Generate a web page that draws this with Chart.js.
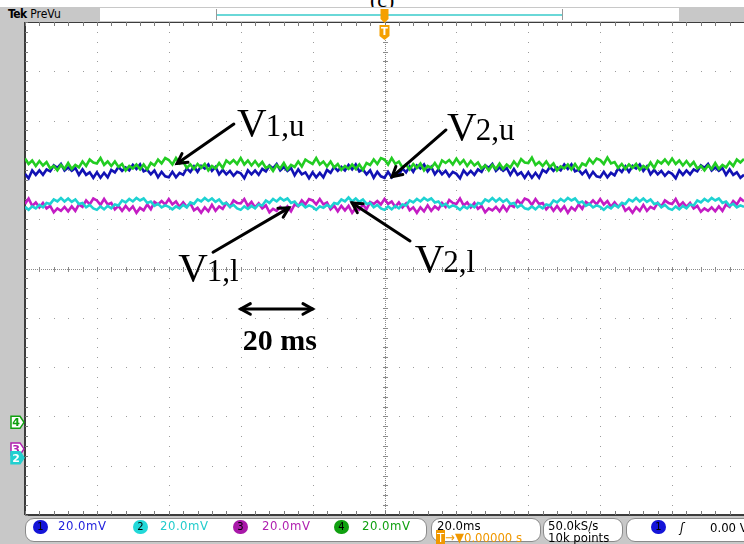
<!DOCTYPE html>
<html>
<head>
<meta charset="utf-8">
<script src="https://cdn.jsdelivr.net/npm/chart.js@4.4.0/dist/chart.umd.min.js"></script>
<style>
body{margin:0;background:#fff;}
#scope{position:relative;width:744px;height:544px;overflow:hidden;font-family:"DejaVu Sans Condensed","DejaVu Sans",sans-serif;}
#shot{position:absolute;left:0;top:7px;width:744px;height:537px;background:#c8c8c8;}
#caption{position:absolute;left:370px;top:-13px;font:22px "Liberation Serif",serif;color:#000;}
#plot{position:absolute;left:0;top:0;width:744px;height:544px;}
.abs{position:absolute;white-space:nowrap;}
#tek{left:8px;top:7px;font-size:12px;color:#000;}
#tek b{letter-spacing:-0.5px;}
#rec{left:100px;top:8px;width:579px;height:13px;background:#fff;}
#brk{left:216px;top:9px;width:345px;height:11px;border-left:1px solid #999;border-right:1px solid #999;}
#brk i{position:absolute;left:0;right:0;top:5px;height:2px;background:#6ad8d8;}
.box{position:absolute;top:518px;height:22px;background:#fff;border:1px solid #8a8a8a;border-radius:9px;}
.badge{position:absolute;top:520px;width:15px;height:14px;border-radius:7px;font-size:11px;line-height:14px;text-align:center;color:#000;}
.val{position:absolute;top:518px;font-size:13px;line-height:16px;letter-spacing:0.5px;white-space:nowrap;}
.ln{position:absolute;font-size:13px;line-height:13px;color:#000;white-space:nowrap;}
</style>
</head>
<body>
<div id="scope">
<div id="caption">(c)</div>
<div id="shot"></div>
<div class="abs" id="tek"><b>Tek</b> PreVu</div>
<div class="abs" id="rec"></div>
<div class="abs" id="brk"><i></i></div>
<div id="plot"><canvas id="scopeChart"></canvas></div>

<div class="box" style="left:25px;width:400px"></div>
<div class="box" style="left:431px;width:108px"></div>
<div class="box" style="left:543px;width:78px"></div>
<div class="box" style="left:626px;width:130px"></div>

<div class="badge" style="left:33px;background:#1414d8">1</div>
<div class="val" style="left:58px;color:#2222dd">20.0mV</div>
<div class="badge" style="left:133px;background:#22d8d8">2</div>
<div class="val" style="left:160px;color:#22cccc">20.0mV</div>
<div class="badge" style="left:233px;background:#a818a8">3</div>
<div class="val" style="left:262px;color:#b020b0">20.0mV</div>
<div class="badge" style="left:334px;background:#10a010">4</div>
<div class="val" style="left:362px;color:#10a010">20.0mV</div>

<div class="ln" style="left:437px;top:519px">20.0ms</div>
<div class="ln" style="left:436px;top:531px;color:#f09800"><span style="background:#f09800;color:#fff;padding:0 1px">T</span>→▼0.00000 s</div>
<div class="ln" style="left:548px;top:519px">50.0kS/s</div>
<div class="ln" style="left:548px;top:531px">10k points</div>
<div class="badge" style="left:651px;background:#1414d8">1</div>
<div class="ln" style="left:680px;top:521px;font-style:italic">ʃ</div>
<div class="ln" style="left:710px;top:521px">0.00 V</div>
</div>

<script>
// =============================
// Scope settings
// =============================
const startMs = -100
const stepMs = 1
const xMajorMs = [-100,-80,-60,-40,-20,0,20,40,60,80,100]
const yMajorDiv = [-5,-4,-3,-2,-1,0,1,2,3,4,5]

// =============================
// Traces (vertical position in divisions, one value per ms)
// =============================
const ch4Green = [
2.23,2.12,2.19,2.08,2.18,2.09,2.16,2.03,2.08,1.99,2.10,2.02,2.14,2.02,2.10,2.05,2.17,2.08,2.21,2.15,
2.13,2.24,2.10,2.17,2.08,2.17,2.06,2.12,1.99,2.08,2.03,2.11,2.01,2.11,2.01,2.14,2.09,2.21,2.13,2.24,
2.20,2.11,2.24,2.13,2.17,2.04,2.11,2.02,2.12,2.04,2.12,1.99,2.08,2.03,2.14,2.04,2.19,2.13,2.20,2.12,
2.24,2.11,2.19,2.09,2.18,2.08,2.16,2.04,2.08,1.98,2.10,2.03,2.14,2.01,2.10,2.06,2.17,2.07,2.21,2.16,
2.12,2.24,2.11,2.17,2.07,2.17,2.05,2.12,2.00,2.08,2.02,2.11,2.02,2.11,2.00,2.14,2.10,2.21,2.12,2.24,
2.21,2.11,2.24,2.12,2.17,2.05,2.11,2.01,2.12,2.04,2.13,1.99,2.08,2.04,2.14,2.03,2.19,2.14,2.20,2.11,
2.23,2.12,2.20,2.08,2.18,2.09,2.15,2.03,2.09,1.99,2.10,2.02,2.13,2.02,2.11,2.05,2.17,2.08,2.22,2.15,
2.14,2.25,2.10,2.16,2.08,2.17,2.06,2.13,1.99,2.07,2.03,2.11,2.01,2.12,2.01,2.13,2.09,2.22,2.13,2.23,
2.20,2.12,2.25,2.13,2.16,2.04,2.12,2.02,2.11,2.04,2.12,2.00,2.08,2.03,2.15,2.04,2.18,2.13,2.21,2.12,
2.23,2.12,2.19,2.09,2.18,2.08,2.16,2.03,2.08,1.99,2.09,2.02,2.14,2.02,2.10,2.05,2.16,2.08,2.21,2.15,
2.22]

const ch1Blue = [
1.92,1.83,1.99,1.90,1.99,1.90,2.01,1.97,2.09,2.04,2.12,1.99,2.05,1.98,2.04,1.90,2.01,1.90,1.95,1.84,
1.95,1.84,1.94,1.85,2.00,1.95,2.06,1.98,2.05,1.99,2.10,2.02,2.11,1.97,2.00,1.91,1.99,1.85,1.96,1.87,
1.85,1.96,1.85,1.94,1.90,2.03,1.96,2.07,1.96,2.08,2.03,2.11,1.98,2.06,1.91,2.00,1.91,1.98,1.88,1.96,
1.93,1.83,1.99,1.91,1.99,1.90,2.02,1.97,2.09,2.03,2.12,1.99,2.06,1.98,2.04,1.89,2.01,1.91,1.95,1.83,
1.95,1.85,1.94,1.85,2.00,1.94,2.06,1.98,2.06,1.99,2.10,2.01,2.11,1.97,2.01,1.91,1.99,1.84,1.96,1.87,
1.84,1.96,1.85,1.93,1.90,2.03,1.95,2.07,1.96,2.09,2.03,2.11,1.97,2.06,1.91,2.01,1.91,1.98,1.87,1.96,
1.92,1.83,1.99,1.90,1.98,1.90,2.01,1.96,2.09,2.04,2.12,1.98,2.05,1.98,2.04,1.90,2.02,1.90,1.95,1.84,
1.95,1.84,1.94,1.84,2.00,1.95,2.06,1.98,2.05,1.99,2.11,2.02,2.11,1.97,2.00,1.91,1.99,1.85,1.96,1.87,
1.85,1.96,1.85,1.94,1.89,2.03,1.96,2.07,1.96,2.08,2.03,2.11,1.98,2.07,1.91,2.00,1.91,1.98,1.88,1.96,
1.92,1.83,1.99,1.90,1.99,1.91,2.01,1.97,2.09,2.04,2.12,1.99,2.05,1.98,2.04,1.90,2.01,1.90,1.95,1.84,
1.90]

const ch3Magenta = [
1.31,1.42,1.27,1.34,1.24,1.33,1.22,1.27,1.14,1.22,1.17,1.25,1.16,1.26,1.17,1.30,1.25,1.38,1.30,1.42,
1.38,1.29,1.41,1.30,1.33,1.20,1.27,1.17,1.27,1.18,1.26,1.13,1.23,1.18,1.30,1.20,1.35,1.30,1.37,1.30,
1.41,1.30,1.36,1.25,1.34,1.25,1.32,1.18,1.23,1.13,1.24,1.16,1.29,1.17,1.26,1.21,1.33,1.25,1.38,1.33,
1.32,1.41,1.27,1.35,1.24,1.32,1.22,1.28,1.14,1.21,1.17,1.25,1.17,1.26,1.16,1.30,1.26,1.38,1.30,1.41,
1.38,1.30,1.41,1.30,1.34,1.20,1.27,1.16,1.27,1.18,1.27,1.13,1.23,1.19,1.30,1.20,1.35,1.31,1.37,1.30,
1.41,1.31,1.36,1.25,1.34,1.24,1.32,1.18,1.24,1.13,1.24,1.16,1.28,1.17,1.26,1.20,1.33,1.25,1.39,1.33,
1.31,1.42,1.28,1.34,1.24,1.33,1.21,1.27,1.14,1.22,1.18,1.25,1.16,1.27,1.17,1.29,1.25,1.38,1.31,1.42,
1.39,1.29,1.41,1.31,1.33,1.20,1.28,1.17,1.27,1.17,1.26,1.13,1.24,1.18,1.30,1.21,1.35,1.30,1.38,1.30,
1.41,1.30,1.37,1.25,1.34,1.25,1.32,1.17,1.23,1.13,1.24,1.17,1.29,1.17,1.25,1.21,1.33,1.26,1.38,1.33,
1.31,1.41,1.27,1.34,1.25,1.33,1.22,1.27,1.15,1.22,1.17,1.24,1.16,1.26,1.17,1.30,1.25,1.37,1.30,1.42,
1.36]

const ch2Cyan = [
1.25,1.19,1.26,1.22,1.29,1.24,1.33,1.31,1.40,1.36,1.43,1.36,1.42,1.35,1.40,1.31,1.33,1.24,1.29,1.22,
1.19,1.26,1.20,1.27,1.22,1.30,1.28,1.38,1.34,1.41,1.36,1.43,1.38,1.42,1.33,1.36,1.27,1.31,1.24,1.28,
1.25,1.20,1.26,1.22,1.29,1.24,1.34,1.31,1.40,1.36,1.43,1.37,1.42,1.35,1.40,1.31,1.33,1.25,1.29,1.22,
1.19,1.26,1.21,1.27,1.22,1.30,1.28,1.38,1.33,1.41,1.36,1.43,1.38,1.42,1.33,1.36,1.27,1.31,1.24,1.28,
1.25,1.19,1.26,1.23,1.29,1.24,1.33,1.31,1.40,1.36,1.44,1.36,1.42,1.35,1.40,1.31,1.33,1.24,1.29,1.22,
1.19,1.26,1.20,1.27,1.22,1.30,1.28,1.38,1.34,1.41,1.36,1.43,1.38,1.42,1.34,1.36,1.27,1.31,1.24,1.28,
1.25,1.19,1.26,1.22,1.29,1.24,1.33,1.31,1.40,1.36,1.43,1.36,1.42,1.35,1.40,1.31,1.33,1.24,1.29,1.22,
1.20,1.26,1.20,1.27,1.22,1.30,1.28,1.38,1.34,1.41,1.36,1.43,1.38,1.42,1.33,1.36,1.27,1.31,1.24,1.28,
1.25,1.19,1.26,1.22,1.29,1.24,1.33,1.31,1.40,1.36,1.43,1.36,1.42,1.35,1.40,1.31,1.33,1.24,1.29,1.22,
1.19,1.26,1.20,1.27,1.22,1.30,1.28,1.38,1.34,1.41,1.36,1.43,1.38,1.42,1.33,1.36,1.27,1.31,1.24,1.28,
1.25]

function series(vals){
return vals.map((v,i)=>({x:startMs+i*stepMs,y:v}))
}

// =============================
// Labels and arrows (ms, div)
// =============================
const notes = [
{main:"V",sub:"1,u",x:-41.0,y:2.68},
{main:"V",sub:"2,u",x:17.4,y:2.60},
{main:"V",sub:"1,l",x:-57.4,y:-0.26},
{main:"V",sub:"2,l",x:8.4,y:-0.08}
]
const arrows = [
{x1:-41.9,y1:2.93,x2:-57.7,y2:2.13},
{x1:17.1,y1:2.81,x2:2.1,y2:1.86},
{x1:-47.7,y1:0.33,x2:-26.6,y2:1.23},
{x1:7.1,y1:0.56,x2:-9.0,y2:1.33}
]

// =============================
// Graticule plugin
// =============================
const graticule = {
id:"graticule",
beforeDatasetsDraw(chart){
const {ctx,chartArea:a,scales:{x,y}} = chart
ctx.save()
ctx.fillStyle="#fff"
ctx.fillRect(a.left,a.top,a.right-a.left,a.bottom-a.top)

const dot=(px,py,w,h)=>ctx.fillRect(Math.round(px),Math.round(py),w||1,h||1)
ctx.fillStyle="#9c9c9c"

// dotted division lines
xMajorMs.slice(1,-1).forEach(t=>{
if(t===0) return
for(let k=0;k<=50;k++) dot(x.getPixelForValue(t),y.getPixelForValue(-5+k*0.2))
})
yMajorDiv.slice(1,-1).forEach(v=>{
if(v===0) return
for(let k=0;k<=50;k++) dot(x.getPixelForValue(startMs+k*4),y.getPixelForValue(v))
})

// centre cross
const x0=x.getPixelForValue(0), y0=y.getPixelForValue(0)
ctx.fillStyle="#8a8a8a"
for(let px=a.left;px<=a.right;px+=2) dot(px,y0)
for(let py=a.top;py<=a.bottom;py+=2) dot(x0,py)
for(let k=0;k<=50;k++){
dot(x.getPixelForValue(startMs+k*4),y0-2,1,5)
dot(x0-2,y.getPixelForValue(-5+k*0.2),5,1)
}

// frame
ctx.fillStyle="#3c3c3c"
ctx.fillRect(a.left,a.top,a.right-a.left,1)
ctx.fillRect(a.left,a.bottom-1,a.right-a.left,2)
ctx.fillRect(a.left-1,a.top,2,a.bottom-a.top)
ctx.fillStyle="#7a7a7a"
for(let k=0;k<=50;k++){
let px=x.getPixelForValue(startMs+k*4)
dot(px,a.top,1,4)
dot(px,a.bottom-4,1,4)
dot(a.left,y.getPixelForValue(-5+k*0.2),3,1)
}
ctx.restore()
},

afterDatasetsDraw(chart){
const {ctx,scales:{x,y}} = chart
ctx.save()

// trigger marker
let tx=x.getPixelForValue(0)
ctx.fillStyle="#f5a000"
ctx.beginPath()
ctx.moveTo(tx-5,25);ctx.lineTo(tx+5,25);ctx.lineTo(tx+5,36);ctx.lineTo(tx,40);ctx.lineTo(tx-5,36)
ctx.closePath();ctx.fill()
ctx.fillStyle="#fff"
ctx.font="bold 10px 'DejaVu Sans'"
ctx.textAlign="center"
ctx.fillText("T",tx,35)
ctx.fillStyle="#f5a000"
ctx.beginPath()
ctx.moveTo(tx-4,9);ctx.lineTo(tx+4,9);ctx.lineTo(tx+4,19);ctx.lineTo(tx,23);ctx.lineTo(tx-4,19)
ctx.closePath();ctx.fill()

// ground markers on the left
const gmark=(v,label,col,filled)=>{
let py=y.getPixelForValue(v)
ctx.beginPath()
ctx.moveTo(11,py-6);ctx.lineTo(20,py-6);ctx.lineTo(24,py);ctx.lineTo(20,py+6);ctx.lineTo(11,py+6)
ctx.closePath()
ctx.fillStyle=filled?col:"#fff";ctx.fill()
ctx.strokeStyle=col;ctx.lineWidth=1.5;ctx.stroke()
ctx.fillStyle=filled?"#fff":col
ctx.font="bold 11px 'DejaVu Sans'"
ctx.textAlign="center"
ctx.fillText(label,16,py+4)
}
gmark(-3.12,"4","#10a010",false)
gmark(-3.66,"3","#b020b0",false)
gmark(-3.84,"2","#22d0d0",true)

// annotation arrows
ctx.strokeStyle="#000"
ctx.fillStyle="#000"
ctx.lineWidth=3
ctx.lineCap="round"
const head=(px,py,ang)=>{
ctx.beginPath()
ctx.moveTo(px+11*Math.cos(ang+0.5),py+11*Math.sin(ang+0.5))
ctx.lineTo(px,py)
ctx.lineTo(px+11*Math.cos(ang-0.5),py+11*Math.sin(ang-0.5))
ctx.stroke()
}
arrows.forEach(ar=>{
let ax=x.getPixelForValue(ar.x1), ay=y.getPixelForValue(ar.y1)
let bx=x.getPixelForValue(ar.x2), by=y.getPixelForValue(ar.y2)
ctx.beginPath();ctx.moveTo(ax,ay);ctx.lineTo(bx,by);ctx.stroke()
head(bx,by,Math.atan2(ay-by,ax-bx))
})

// 20 ms span
let sy=y.getPixelForValue(-0.82)
let s1=x.getPixelForValue(-40), s2=x.getPixelForValue(-20)
ctx.beginPath();ctx.moveTo(s1,sy);ctx.lineTo(s2,sy);ctx.stroke()
head(s1,sy,0);head(s2,sy,Math.PI)
ctx.textAlign="left"
ctx.font="bold 30px 'Liberation Serif'"
ctx.fillText("20 ms",x.getPixelForValue(-39.4),y.getPixelForValue(-1.65))

// V labels
notes.forEach(n=>{
let px=x.getPixelForValue(n.x), py=y.getPixelForValue(n.y)
ctx.font="41px 'Liberation Serif'"
ctx.fillText(n.main,px,py)
let w=ctx.measureText(n.main).width
ctx.font="31px 'Liberation Serif'"
ctx.fillText(n.sub,px+w-1,py)
})
ctx.restore()
}
}

// =============================
// Chart
// =============================
const ctx = document.getElementById("scopeChart").getContext("2d")

new Chart(ctx,{
type:"line",
data:{
datasets:[
{label:"Ch4",data:series(ch4Green),borderColor:"#22cc22",order:1},
{label:"Ch1",data:series(ch1Blue),borderColor:"#1212b4",order:2},
{label:"Ch2",data:series(ch2Cyan),borderColor:"#1ed2d2",order:3},
{label:"Ch3",data:series(ch3Magenta),borderColor:"#c41cc4",order:4}
]
},
options:{
responsive:true,
maintainAspectRatio:false,
animation:false,
layout:{padding:{left:25,top:22,right:0,bottom:29}},
elements:{
line:{borderWidth:2.6,tension:0},
point:{radius:0}
},
plugins:{legend:{display:false},tooltip:{enabled:false}},
scales:{
x:{type:"linear",min:-100,max:100,display:false},
y:{min:-5,max:5,display:false}
}
},
plugins:[graticule]
})
</script>
</body>
</html>
